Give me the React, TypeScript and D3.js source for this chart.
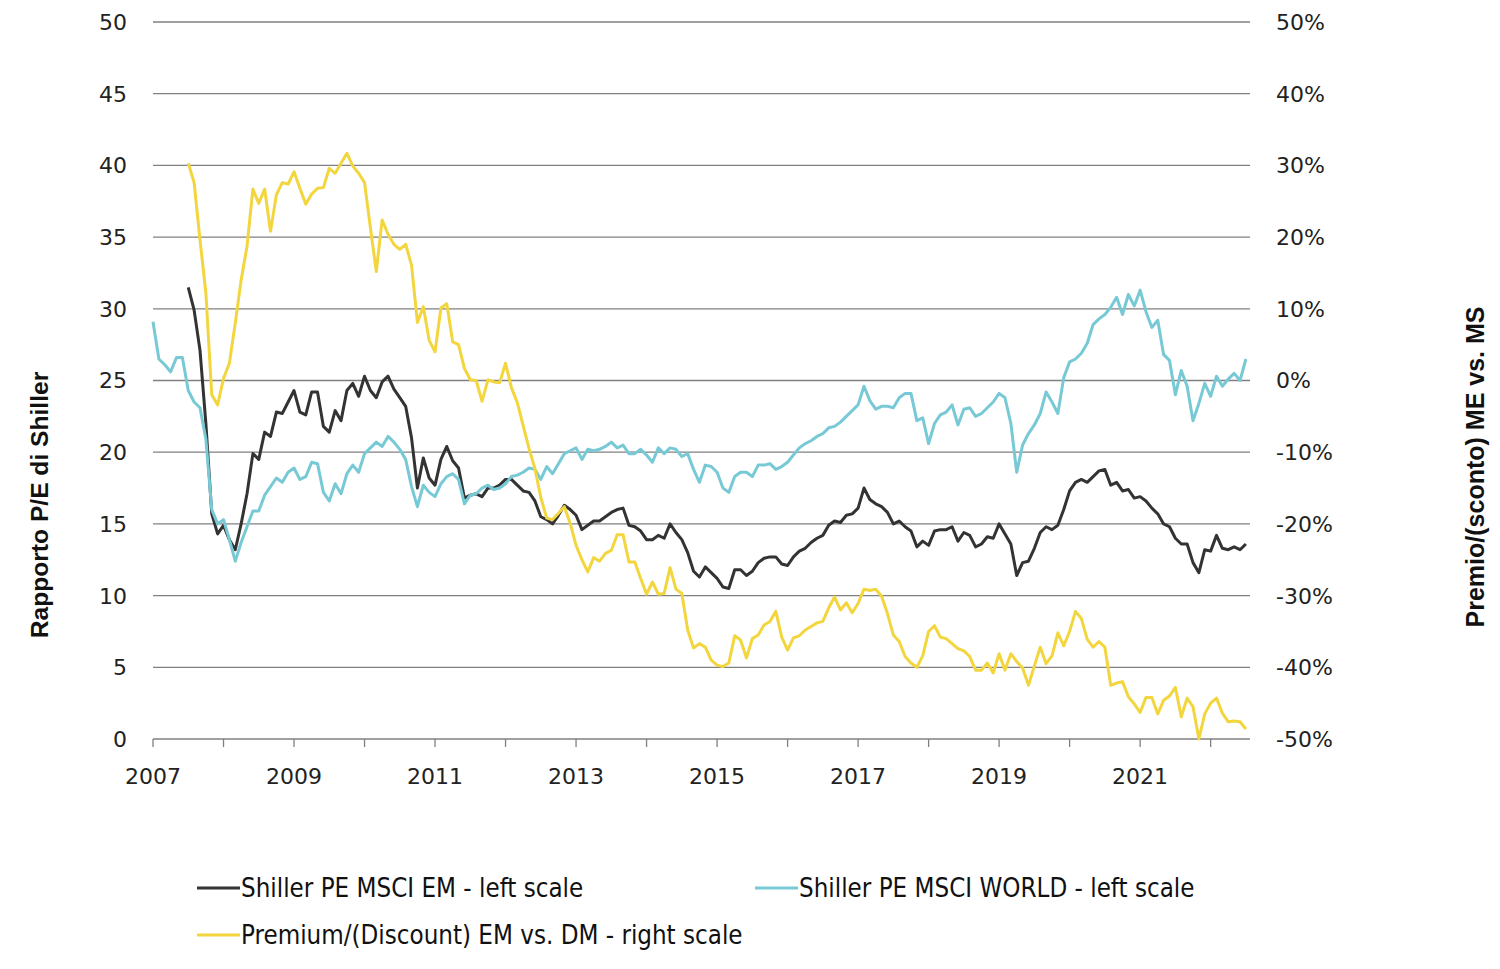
import React from "react";
import * as d3 from "d3";

// Monthly data, World starts Jan 2007; EM and Premium start Jul 2007
const worldStart = 2007;
const emStart = 2007 + 6 / 12;

const worldPE = [
  29.1, 26.5, 26.1, 25.6, 26.6, 26.6, 24.3, 23.5, 23.1, 20.9,
  16.0, 15.0, 15.3, 13.9, 12.4, 13.7, 14.8, 15.9, 15.9, 17.0,
  17.6, 18.2, 17.9, 18.6, 18.9, 18.1, 18.3, 19.3, 19.2, 17.2,
  16.6, 17.8, 17.1, 18.5, 19.1, 18.6, 19.9, 20.3, 20.7, 20.4,
  21.1, 20.7, 20.2, 19.5, 17.6, 16.2, 17.7, 17.2, 16.9, 17.8,
  18.3, 18.5, 18.1, 16.4, 17.0, 17.1, 17.5, 17.7, 17.4, 17.5,
  17.8, 18.3, 18.4, 18.6, 18.9, 18.8, 18.1, 19.0, 18.5, 19.2,
  19.9, 20.1, 20.3, 19.5, 20.2, 20.1, 20.2, 20.4, 20.7, 20.3,
  20.5, 19.9, 19.9, 20.2, 19.8, 19.3, 20.3, 19.9, 20.3, 20.2,
  19.7, 19.9, 18.8, 17.9, 19.1, 19.0, 18.6, 17.5, 17.2, 18.3,
  18.6, 18.6, 18.3, 19.1, 19.1, 19.2, 18.8, 19.0, 19.3, 19.8,
  20.3, 20.6, 20.8, 21.1, 21.3, 21.7, 21.8, 22.1, 22.5, 22.9,
  23.3, 24.6, 23.6, 23.0, 23.2, 23.2, 23.1, 23.8, 24.1, 24.1,
  22.2, 22.4, 20.6, 22.0, 22.6, 22.8, 23.3, 21.9, 23.0, 23.1,
  22.5, 22.7, 23.1, 23.5, 24.1, 23.8, 22.0, 18.6, 20.5, 21.3,
  21.9, 22.7, 24.2, 23.5, 22.7, 25.2, 26.3, 26.5, 26.9, 27.6,
  28.9, 29.3, 29.6, 30.1, 30.8, 29.6, 31.0, 30.2, 31.3, 29.8,
  28.7, 29.2, 26.8, 26.4, 24.0, 25.7, 24.6, 22.2, 23.4, 24.8,
  23.9, 25.3, 24.6, 25.1, 25.5, 25.0, 26.5,
];

const emPE = [
  31.5, 29.9, 27.1, 22.0,
  15.7, 14.3, 14.9, 13.9, 13.2, 15.0, 17.1, 19.9, 19.5, 21.4,
  21.1, 22.8, 22.7, 23.5, 24.3, 22.8, 22.6, 24.2, 24.2, 21.8,
  21.4, 22.9, 22.2, 24.3, 24.8, 23.9, 25.3, 24.3, 23.8, 24.9,
  25.3, 24.4, 23.8, 23.2, 21.0, 17.5, 19.6, 18.2, 17.7, 19.5,
  20.4, 19.4, 18.9, 16.8, 17.0, 17.1, 16.9, 17.5, 17.5, 17.7,
  18.1, 18.1, 17.7, 17.3, 17.2, 16.6, 15.5, 15.3, 15.0, 15.6,
  16.3, 16.0, 15.6, 14.6, 14.9, 15.2, 15.2, 15.5, 15.8, 16.0,
  16.1, 14.9, 14.8, 14.5, 13.9, 13.9, 14.2, 14.0, 15.0, 14.4,
  13.9, 13.0, 11.7, 11.3, 12.0, 11.6, 11.2, 10.6, 10.5, 11.8,
  11.8, 11.4, 11.7, 12.3, 12.6, 12.7, 12.7, 12.2, 12.1, 12.7,
  13.1, 13.3, 13.7, 14.0, 14.2, 14.9, 15.2, 15.1, 15.6, 15.7,
  16.1, 17.5, 16.7, 16.4, 16.2, 15.8, 15.0, 15.2, 14.8, 14.5,
  13.4, 13.8, 13.5, 14.5, 14.6, 14.6, 14.8, 13.8, 14.4, 14.2,
  13.4, 13.6, 14.1, 14.0, 15.0, 14.3, 13.6, 11.4, 12.3, 12.4,
  13.3, 14.4, 14.8, 14.6, 14.9, 16.0, 17.3, 17.9, 18.1, 17.9,
  18.3, 18.7, 18.8, 17.7, 17.9, 17.3, 17.4, 16.8, 16.9, 16.6,
  16.1, 15.7, 15.0, 14.8, 14.0, 13.6, 13.6, 12.3, 11.6, 13.2,
  13.1, 14.2, 13.3, 13.2, 13.4, 13.2, 13.6,
];

const premiumPct = [
  30.3, 27.6, 19.6, 12.2,
  -2.0, -3.4, 0.3, 2.4, 8.0, 14.0, 18.7, 26.7, 24.7, 26.7,
  20.8, 25.9, 27.6, 27.4, 29.1, 26.8, 24.6, 26.0, 26.8, 26.9,
  29.6, 28.9, 30.3, 31.7, 29.9, 28.9, 27.6, 21.3, 15.2, 22.4,
  20.4, 19.0, 18.3, 19.0, 16.1, 8.1, 10.3, 5.6, 4.0, 10.1,
  10.7, 5.4, 5.0, 1.7, 0.1, 0.0, -2.9, 0.1, -0.2, -0.3,
  2.4, -1.0, -3.1, -6.3, -9.5, -12.3, -16.3, -19.2, -19.4, -18.5,
  -17.6, -19.9, -23.0, -25.0, -26.7, -24.7, -25.2, -24.1, -23.7, -21.5,
  -21.5, -25.3, -25.3, -27.6, -29.8, -28.1, -29.8, -29.7, -26.1, -29.1,
  -29.7, -34.8, -37.3, -36.7, -37.2, -39.0, -39.7, -39.9, -39.4, -35.6,
  -36.2, -38.7, -36.0, -35.5, -34.1, -33.6, -32.2, -35.8, -37.6, -35.9,
  -35.6, -34.8, -34.3, -33.8, -33.6, -31.7, -30.2, -32.0, -31.0, -32.4,
  -31.1, -29.1, -29.3, -29.1, -30.1, -32.5, -35.5, -36.4, -38.5, -39.4,
  -40.0, -38.4, -35.0, -34.2, -35.8, -36.0, -36.7, -37.4, -37.7, -38.5,
  -40.4, -40.4, -39.4, -40.8, -38.1, -40.4, -38.1, -39.2, -40.1, -42.5,
  -39.8, -37.2, -39.5, -38.4, -35.2, -37.0, -35.0, -32.2, -33.2, -36.1,
  -37.2, -36.4, -37.2, -42.5, -42.2, -42.0, -44.1, -45.1, -46.3, -44.2,
  -44.2, -46.5, -44.6, -44.0, -42.8, -46.9, -44.3, -45.5, -50.0, -46.5,
  -45.0, -44.3, -46.4, -47.6, -47.5, -47.6, -48.6,
];

const leftTicks = [0, 5, 10, 15, 20, 25, 30, 35, 40, 45, 50];
const rightTicks = [-50, -40, -30, -20, -10, 0, 10, 20, 30, 40, 50];
const yearTicks = d3.range(2007, 2023);
const yearLabels = [2007, 2009, 2011, 2013, 2015, 2017, 2019, 2021];

const seriesNames = [
  "Shiller PE MSCI EM - left scale",
  "Shiller PE MSCI WORLD - left scale",
  "Premium/(Discount) EM vs. DM - right scale",
];
const colors = ["#333333", "#78c9d6", "#f3d63e"];

const W = 1500;
const H = 969;
const M = { left: 153, right: 1250, top: 22, bottom: 739 };

export default function App() {
  const x = d3.scaleLinear().domain([2007, 2007 + 186.7 / 12]).range([M.left, M.right]);
  const yL = d3.scaleLinear().domain([0, 50]).range([M.bottom, M.top]);
  const yR = d3.scaleLinear().domain([-50, 50]).range([M.bottom, M.top]);

  const toPts = (arr: number[], start: number) =>
    arr.map((v, i) => [start + i / 12, v] as [number, number]);

  const lineL = d3.line<[number, number]>().x((d) => x(d[0])).y((d) => yL(d[1]));
  const lineR = d3.line<[number, number]>().x((d) => x(d[0])).y((d) => yR(d[1]));

  const tickFont = "'DejaVu Sans', sans-serif";
  const sans = "'Liberation Sans', Arial, sans-serif";
  const cond = "'DejaVu Sans Condensed', sans-serif";

  return (
    <svg width={W} height={H} style={{ position: "absolute", left: 0, top: 0, background: "#fff" }}>
      <rect width={W} height={H} fill="#fff" />
      {leftTicks.map((t) => (
        <line key={"g" + t} x1={M.left} x2={M.right} y1={yL(t)} y2={yL(t)} stroke="#808080" strokeWidth={1.3} />
      ))}
      {yearTicks.map((yr) => (
        <line key={"t" + yr} x1={x(yr)} x2={x(yr)} y1={M.bottom} y2={M.bottom + 8} stroke="#808080" strokeWidth={1.3} />
      ))}
      {leftTicks.map((t) => (
        <text key={"l" + t} x={127} y={yL(t)} dy="0.36em" textAnchor="end" fontFamily={tickFont} fontSize={22} fill="#222">
          {t}
        </text>
      ))}
      {rightTicks.map((t) => (
        <text key={"r" + t} x={1276} y={yR(t)} dy="0.36em" textAnchor="start" fontFamily={tickFont} fontSize={22} fill="#222">
          {t + "%"}
        </text>
      ))}
      {yearLabels.map((yr) => (
        <text key={"x" + yr} x={x(yr)} y={776} dy="0.36em" textAnchor="middle" fontFamily={tickFont} fontSize={22} fill="#222">
          {yr}
        </text>
      ))}
      <text transform={`translate(48,505) rotate(-90)`} textAnchor="middle" fontFamily={sans} fontWeight={700} fontSize={24.6} fill="#111">
        Rapporto P/E di Shiller
      </text>
      <text transform={`translate(1484,467) rotate(-90)`} textAnchor="middle" fontFamily={sans} fontWeight={700} fontSize={25} fill="#111">
        Premio/(sconto) ME vs. MS
      </text>

      <path d={lineL(toPts(emPE, emStart)) || ""} fill="none" stroke={colors[0]} strokeWidth={3} strokeLinejoin="round" />
      <path d={lineL(toPts(worldPE, worldStart)) || ""} fill="none" stroke={colors[1]} strokeWidth={3} strokeLinejoin="round" />
      <path d={lineR(toPts(premiumPct, emStart)) || ""} fill="none" stroke={colors[2]} strokeWidth={3} strokeLinejoin="round" />

      {[
        { x: 197, y: 888, i: 0 },
        { x: 755, y: 888, i: 1 },
        { x: 197, y: 935, i: 2 },
      ].map((l) => (
        <g key={"lg" + l.i}>
          <line x1={l.x} x2={l.x + 43} y1={l.y} y2={l.y} stroke={colors[l.i]} strokeWidth={3} />
          <text x={l.x + 44} y={l.y} dy="0.36em" fontFamily={cond} fontSize={25.7} fill="#111">
            {seriesNames[l.i]}
          </text>
        </g>
      ))}
    </svg>
  );
}
